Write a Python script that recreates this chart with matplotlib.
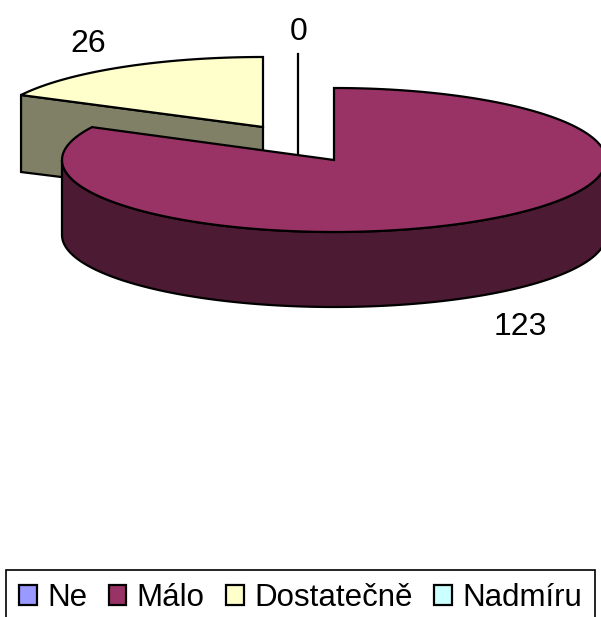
import numpy as np
import matplotlib
matplotlib.use("Agg")
import matplotlib.pyplot as plt
from matplotlib.patches import Patch

categories = ["Ne", "Málo", "Dostatečně", "Nadmíru"]
values = [0, 123, 26, 0]
colors = ["#9999FF", "#993366", "#FFFFCC", "#CCFFFF"]
side_colors = ["#4D4D80", "#4D1A33", "#808066", "#668080"]

plt.rcParams["font.family"] = ["Liberation Sans", "DejaVu Sans"]

# pie geometry, in pixels of the picture
rx, ry, depth = 272, 72, 75
slice_ry = 70
main_center = (334, 160)
slice_center = (263, 127)
zero_x, zero_top = 298, 54
lw = 1.6

# slices run clockwise from 12 o'clock
fractions = np.array(values) / sum(values)
ends = 90 - 360 * np.cumsum(fractions)
starts = np.concatenate(([90], ends[:-1]))


def rim(center, a0, a1, r_y=ry):
    t = np.radians(np.linspace(a0, a1, 200))
    return center[0] + rx * np.cos(t), center[1] - r_y * np.sin(t)


fig = plt.figure(figsize=(6.01, 6.17), dpi=100)
ax = fig.add_axes([0, 0, 1, 1])
ax.set_xlim(0, 601)
ax.set_ylim(617, 0)
ax.axis("off")

# Dostatecne, pulled out to the back left
x, y = rim(slice_center, starts[2], ends[2], slice_ry)
cx, cy = slice_center
ax.fill([x[0], cx, cx, x[0]], [y[0], cy, cy + depth, y[0] + depth + 2],
        fc=side_colors[2], ec="black", lw=lw, zorder=1)
ax.fill(np.r_[cx, x], np.r_[cy, y], fc=colors[2], ec="black", lw=lw, zorder=2)

# empty slices only leave a line
ax.plot([zero_x, zero_x], [zero_top, zero_top + 101], color="black", lw=lw, zorder=3)

# Malo
cx, cy = main_center
x, y = rim(main_center, 180, 360)
ax.fill(np.r_[x, x[::-1]], np.r_[y, y[::-1] + depth],
        fc=side_colors[1], ec="black", lw=lw, zorder=4)
x, y = rim(main_center, starts[1], ends[1])
ax.fill(np.r_[cx, x], np.r_[cy, y], fc=colors[1], ec="black", lw=lw, zorder=5)

# data labels
ax.text(88, 44, str(values[2]), fontsize=23, ha="center", va="center")
ax.text(299, 32, str(values[0]), fontsize=23, ha="center", va="center")
ax.text(520, 327, str(values[1]), fontsize=23, ha="center", va="center")

handles = [Patch(fc=c, ec="black", lw=lw) for c in colors]
leg = ax.legend(handles, categories, loc="upper left",
                bbox_to_anchor=(6 / 601, 1 - 570 / 617), ncol=4,
                fontsize=22.5, frameon=True, fancybox=False, framealpha=1,
                edgecolor="black", handlelength=0.57, handleheight=0.57,
                handletextpad=0.33, columnspacing=0.68, borderpad=0.42,
                borderaxespad=0)
leg.get_frame().set_linewidth(1.2)

fig.savefig("out.png", dpi=100)
